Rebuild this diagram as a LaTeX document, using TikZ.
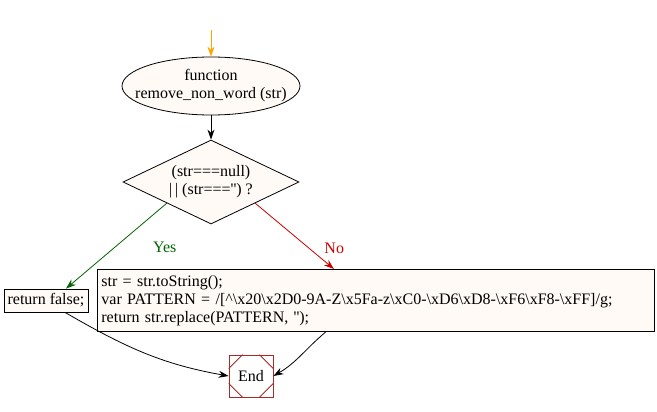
\documentclass[tikz,border=0pt]{standalone}
\usepackage{fontspec}
\setmainfont{Liberation Serif}
\usetikzlibrary{shapes.geometric}
\usetikzlibrary{arrows.meta}
\usetikzlibrary{positioning}
\definecolor{nodefill}{RGB}{255,250,245}
\definecolor{yesgreen}{RGB}{0,100,0}
\definecolor{nored}{RGB}{204,0,0}
\definecolor{endbrown}{RGB}{165,42,42}
\definecolor{startorange}{RGB}{255,165,0}

\begin{document}
\begin{tikzpicture}[->,>={Stealth[length=10pt,width=7pt]},x=1pt,y=-1pt,line width=0.8pt,font=\fontsize{16}{18}\selectfont]
\tikzstyle{v}=[rectangle,draw,fill=nodefill,inner sep=4pt]
\useasboundingbox (0,0) rectangle (657,412);
\coordinate (start) at (211,30);
\node[ellipse,draw,fill=nodefill,minimum width=178,minimum height=58,align=center,inner xsep=-13pt,inner ysep=1pt] (F) at (211,86) {function\\remove\_non\_word (str)};
\node[diamond,draw,fill=nodefill,minimum width=176,minimum height=84,aspect=2,inner sep=0pt,align=center] (D) at (211,182) {(str===null)\\|\,| (str===\textquotesingle\textquotesingle) ?};
\node[v,minimum width=84,minimum height=23,inner sep=1pt] (ret) at (46,300.5) {return false;};
\node[v,anchor=north west,align=left,text width=549,minimum height=62] (code) at (97,269) {str = str.toString();\\
  var PATTERN = /[\textasciicircum\textbackslash x20\textbackslash x2D0-9A-Z\textbackslash x5Fa-z\textbackslash xC0-\textbackslash xD6\textbackslash xD8-\textbackslash xF6\textbackslash xF8-\textbackslash xFF]/g;\\
  return str.replace(PATTERN, \textquotesingle\textquotesingle);};
\node[rectangle,draw=endbrown,minimum width=44,minimum height=42] (E) at (251,376) {End};
\draw[-,endbrown] ([yshift=-14pt]E.north west) -- ([xshift=14pt]E.north west)
  ([yshift=-14pt]E.north east) -- ([xshift=-14pt]E.north east)
  ([yshift=14pt]E.south west) -- ([xshift=14pt]E.south west)
  ([yshift=14pt]E.south east) -- ([xshift=-14pt]E.south east);
\path(start)	edge[startorange]	(F)
	 (F)		edge	(D)
	 (D.south west)	edge[yesgreen]	node[pos=0.52,right=35pt]	{Yes}	([xshift=20pt]ret.north)
	 (D.south east)	edge[nored]	node[pos=0.68,right=12pt]	{No}	([xshift=-42pt]code.north)
	 ([xshift=19pt]ret.south)	edge[out=-30,in=170]	(E.west)
	 ([xshift=-50pt]code.south)	edge[out=-140,in=30]	(E.east);
\end{tikzpicture}
\end{document}
